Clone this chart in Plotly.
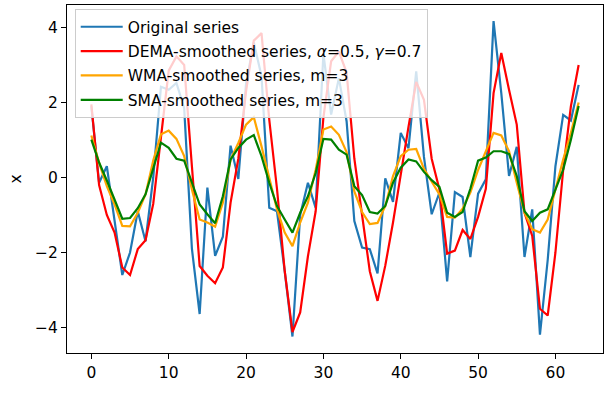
import plotly.graph_objects as go

t = list(range(64))

original = [1.9, -0.14, 0.3, -1.2, -2.6, -2.0, -0.9, -1.7, 0.0, 2.42,
            2.34, 2.52, 1.85, -1.9, -3.64, -0.27, -2.09, -1.58, 0.85, -0.04,
            2.5, 3.6, 2.7, -0.81, -0.9, -2.5, -4.24, -1.0, -0.14, -0.81,
            3.3, 1.68, 2.65, 1.5, -1.16, -1.87, -1.91, -2.56, -0.02, -0.65,
            1.19, 0.78, 2.83, 0.55, -0.98, -0.4, -2.77, -0.39, -0.52, -2.12,
            -0.43, -0.05, 4.17, 2.25, 0.04, 0.82, -2.12, -0.85, -4.19, -2.2,
            0.3, 1.67, 1.52, 2.47]

dema = [1.95, -0.2, -1.0, -1.47, -2.4, -2.6, -1.91, -1.67, -0.7, 1.0,
        2.85, 3.23, 3.0, 0.3, -2.36, -2.62, -2.82, -2.4, -0.67, 0.5,
        2.3, 3.65, 3.85, 1.54, -0.3, -2.5, -4.12, -3.6, -2.1, -0.9,
        1.6, 3.1, 3.36, 2.8, 0.5, -1.0, -2.5, -3.29, -2.35, -1.2,
        0.1, 1.35, 2.55, 2.07, 0.5, -0.32, -2.03, -1.95, -1.4, -1.64,
        -1.05, -0.3, 2.25, 3.32, 2.34, 1.41, -0.94, -1.56, -3.5, -3.68,
        -2.0, 0.2, 1.9, 3.0]

wma = [1.12, 0.39, -0.23, -0.72, -1.29, -1.3, -0.94, -0.45, 0.45, 1.15,
       1.25, 1.03, 0.57, -0.32, -1.12, -1.2, -1.31, -0.67, 0.48, 0.92,
       1.41, 1.61, 0.83, -0.05, -0.85, -1.47, -1.83, -1.2, -0.67, 0.21,
       1.28, 1.36, 1.14, 0.68, -0.37, -0.92, -1.24, -1.21, -0.76, 0.04,
       0.57, 0.74, 0.76, 0.23, -0.12, -0.45, -1.05, -1.07, -0.83, -0.4,
       0.2, 0.7, 1.19, 1.12, 0.7, -0.14, -0.94, -1.38, -1.47, -1.12,
       -0.32, 0.48, 1.19, 2.0]

sma = [1.01, 0.4, -0.08, -0.59, -1.1, -1.08, -0.82, -0.45, 0.25, 0.93,
       0.79, 0.5, 0.45, -0.14, -0.72, -0.98, -1.22, -0.5, 0.48, 0.79,
       1.01, 1.13, 0.57, -0.14, -0.76, -1.12, -1.47, -0.94, -0.5, 0.12,
       1.03, 1.01, 0.74, 0.61, -0.23, -0.47, -0.92, -0.96, -0.76, -0.14,
       0.26, 0.48, 0.43, 0.15, -0.07, -0.25, -0.94, -1.05, -0.92, -0.3,
       0.45, 0.53, 0.7, 0.7, 0.63, 0.04, -0.9, -1.16, -0.94, -0.85,
       -0.32, 0.21, 1.01, 1.91]

x_ticks = [0, 10, 20, 30, 40, 50, 60]
y_ticks = [-4, -2, 0, 2, 4]

names = ["Original series",
         "DEMA-smoothed series, <i>α</i>=0.5, <i>γ</i>=0.7",
         "WMA-smoothed series, m=3",
         "SMA-smoothed series, m=3"]
colors = ["#1f77b4", "#ff0000", "#ffa500", "#008000"]
series = [original, dema, wma, sma]

fig = go.Figure()
for k, (name, col, ys) in enumerate(zip(names, colors, series)):
    fig.add_trace(go.Scatter(x=t, y=ys, mode="lines", name=name,
                             legendgroup=f"g{k}",
                             line=dict(color=col, width=2.2)))

font = dict(family="DejaVu Sans", size=15.5, color="black")
axis_common = dict(showline=True, linecolor="black", linewidth=1.2, mirror=True,
                   ticks="outside", ticklen=5, tickwidth=1.2, tickcolor="black",
                   showgrid=False, zeroline=False, tickfont=font,
                   automargin=False)

fig.update_layout(
    width=612, height=398,
    margin=dict(l=67, r=9, t=5, b=45),
    paper_bgcolor="white", plot_bgcolor="white",
    font=font,
    showlegend=True,
    legend=dict(x=0.0144, y=0.988, xanchor="left", yanchor="top",
                bgcolor="rgba(255,255,255,0.8)", bordercolor="#cccccc",
                borderwidth=1, font=font, tracegroupgap=1.2, itemwidth=42),
    xaxis=dict(range=[-3.15, 66.15], tickvals=x_ticks, **axis_common),
    yaxis=dict(range=[-4.68, 4.60], tickvals=y_ticks,
               title=dict(text="x", font=font, standoff=9), **axis_common),
)

fig.write_html("out.html",
               config={"displayModeBar": False},
               post_script="document.body.style.margin='0px';")
